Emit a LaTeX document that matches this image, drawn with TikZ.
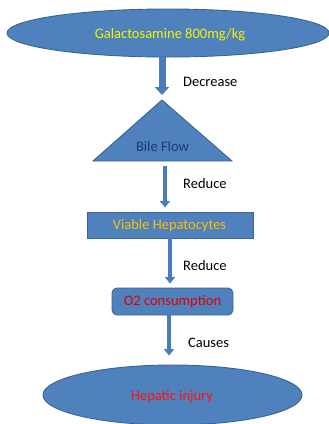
\documentclass[tikz,border=0pt]{standalone}
\usepackage{fontspec}
\setmainfont{Carlito}
\usetikzlibrary{arrows.meta,shapes.geometric}
\definecolor{boxfill}{HTML}{4F81BD}
\definecolor{boxline}{HTML}{3A6593}
\definecolor{arrowc}{HTML}{4A7CBA}
\definecolor{txtyellow}{HTML}{F5F500}
\definecolor{txtgold}{HTML}{FFC000}
\definecolor{txtnavy}{HTML}{1F3A6E}
\definecolor{txtred}{HTML}{E00000}
\definecolor{txtred2}{HTML}{FF1010}
\begin{document}
\begin{tikzpicture}[x=1pt,y=-1pt,
  every node/.style={font=\fontsize{14.5}{17}\selectfont, inner sep=0pt},
  shapebox/.style={fill=boxfill, draw=boxline, line width=0.9pt},
  bigarrow/.style={draw=arrowc, line width=7pt, -{Triangle[width=14pt,length=8pt]}},
  blockarrow/.style={draw=arrowc, line width=4.8pt, -{Triangle[width=10pt,length=6.5pt]}},
  lbl/.style={anchor=west, text=black}]
\useasboundingbox (0,0) rectangle (329,424);
% top ellipse
\node[shapebox, ellipse, minimum width=322pt, minimum height=48pt] (top) at (168,33) {};
\node[text=txtyellow] (toptxt) at (170,35) {Galactosamine 800mg/kg};
% triangle
\coordinate (apex) at (162,100);
\coordinate (bl) at (93,161);
\coordinate (br) at (232,161);
\coordinate (base) at (165,161);
\path[shapebox] (apex) -- (br) -- (bl) -- cycle;
\node[text=txtnavy] (bile) at (162.5,147) {Bile Flow};
% rectangle
\node[shapebox, rectangle, minimum width=166pt, minimum height=26pt] (viable) at (170,225) {};
\node[text=txtgold] (viabletxt) at (169.5,225.5) {Viable Hepatocytes};
% rounded rectangle
\node[shapebox, rectangle, rounded corners=5pt, minimum width=121pt, minimum height=27pt] (o2) at (172.5,301.5) {};
\node[text=txtred] (o2txt) at (172.5,302) {O2 consumption};
% bottom ellipse
\node[shapebox, ellipse, minimum width=259pt, minimum height=60pt] (inj) at (172.5,395) {};
\node[text=txtred2] (injtxt) at (172,397) {Hepatic injury};
% arrows
\draw[bigarrow, shorten >=5pt] (top.south -| apex) -- (apex);
\draw[blockarrow, shorten <=5pt, shorten >=4pt] (base) -- (base |- viable.north);
\draw[blockarrow, shorten >=4pt] (viable.south -| 170,0) -- (o2.north -| 170,0);
\draw[blockarrow, shorten >=9pt] (o2.south -| 169,0) -- (inj.north -| 169,0);
% labels
\node[lbl] (l1) at (183,82) {Decrease};
\node[lbl] (l2) at (183,184) {Reduce};
\node[lbl] (l3) at (183,266) {Reduce};
\node[lbl] (l4) at (188,343) {Causes};
\end{tikzpicture}
\end{document}
